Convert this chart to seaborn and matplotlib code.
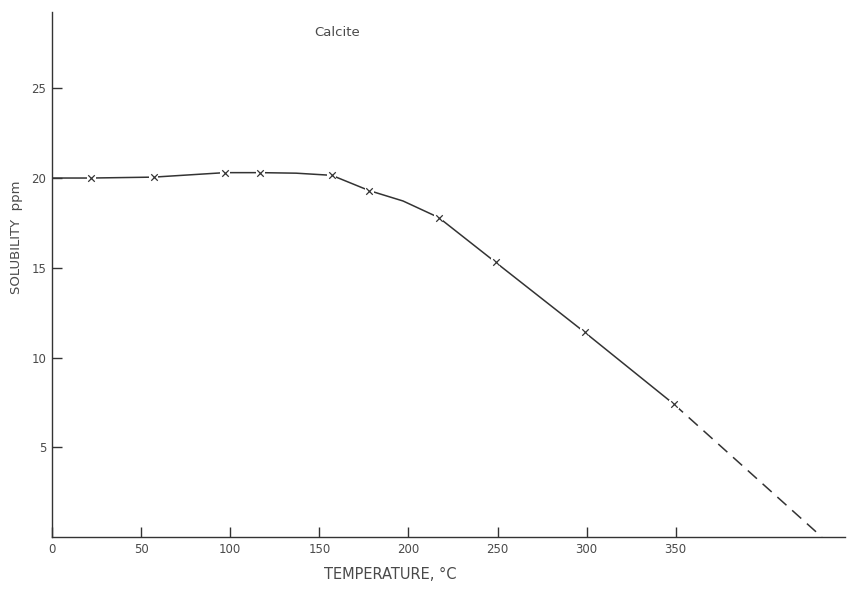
"""
Calcite solubility vs temperature
"""
import numpy as np
import pandas as pd
import matplotlib
matplotlib.use("Agg")
import matplotlib.pyplot as plt
import seaborn as sns

# values (curve, incl. a few unmarked curve points)
temperature = [0, 22, 57, 97, 117, 137, 157, 178, 197, 217, 249, 299, 349]
solubility = [20.0, 20.0, 20.05, 20.3, 20.3, 20.27, 20.15, 19.3, 18.72, 17.8, 15.3, 11.4, 7.4]
# measured points (x markers)
measured_temp = [22, 57, 97, 117, 157, 178, 217, 249, 299, 349]
measured_sol = [20.0, 20.05, 20.3, 20.3, 20.15, 19.3, 17.8, 15.3, 11.4, 7.4]
# dashed extrapolation
extrap_temp = [349, 432]
extrap_sol = [7.4, 0.0]

x_ticks = [0, 50, 100, 150, 200, 250, 300, 350]
y_ticks = [5, 10, 15, 20, 25]

ink = "#333333"
text_c = "#4a4a4a"

sns.set_style("ticks")
plt.rcParams['font.family'] = ['DejaVu Sans']

fig = plt.figure(figsize=(8.57, 5.89), dpi=100)
ax = fig.add_axes([52 / 857, 52 / 589, 793 / 857, 525 / 589])

curve = pd.DataFrame({"t": temperature, "s": solubility})
pts = pd.DataFrame({"t": measured_temp, "s": measured_sol})
ext = pd.DataFrame({"t": extrap_temp, "s": extrap_sol})

sns.lineplot(data=curve, x="t", y="s", ax=ax, color=ink, linewidth=1.1, sort=False)
sns.lineplot(data=ext, x="t", y="s", ax=ax, color=ink, linewidth=1.1, sort=False,
             linestyle=(0, (8, 5)))
# white patch under each marker so the line breaks around it
sns.scatterplot(data=pts, x="t", y="s", ax=ax, marker="s", s=45, color="white",
                edgecolor="none", zorder=3)
sns.scatterplot(data=pts, x="t", y="s", ax=ax, marker="x", s=22, color=ink,
                linewidth=0.9, zorder=4)

ax.set_xlim(0, 445)
ax.set_ylim(0, 29.25)
ax.set_xticks(x_ticks)
ax.set_yticks(y_ticks)
ax.tick_params(direction="in", length=7, width=1, colors=ink, labelcolor=text_c,
               labelsize=8.5, pad=4)

sns.despine(ax=ax)
for side in ["left", "bottom"]:
    ax.spines[side].set_color(ink)
    ax.spines[side].set_linewidth(1.0)

ax.set_xlabel("TEMPERATURE, °C", fontsize=10.5, color=text_c)
ax.xaxis.set_label_coords(0.426, -0.058)
ax.set_ylabel("SOLUBILITY  ppm", fontsize=9.5, color=text_c)
ax.yaxis.set_label_coords(-0.037, 0.57)

ax.text(160, 28.1, "Calcite", fontsize=9.5, color=text_c, ha="center", va="center")

plt.savefig("out.png", dpi=100)
plt.close()
